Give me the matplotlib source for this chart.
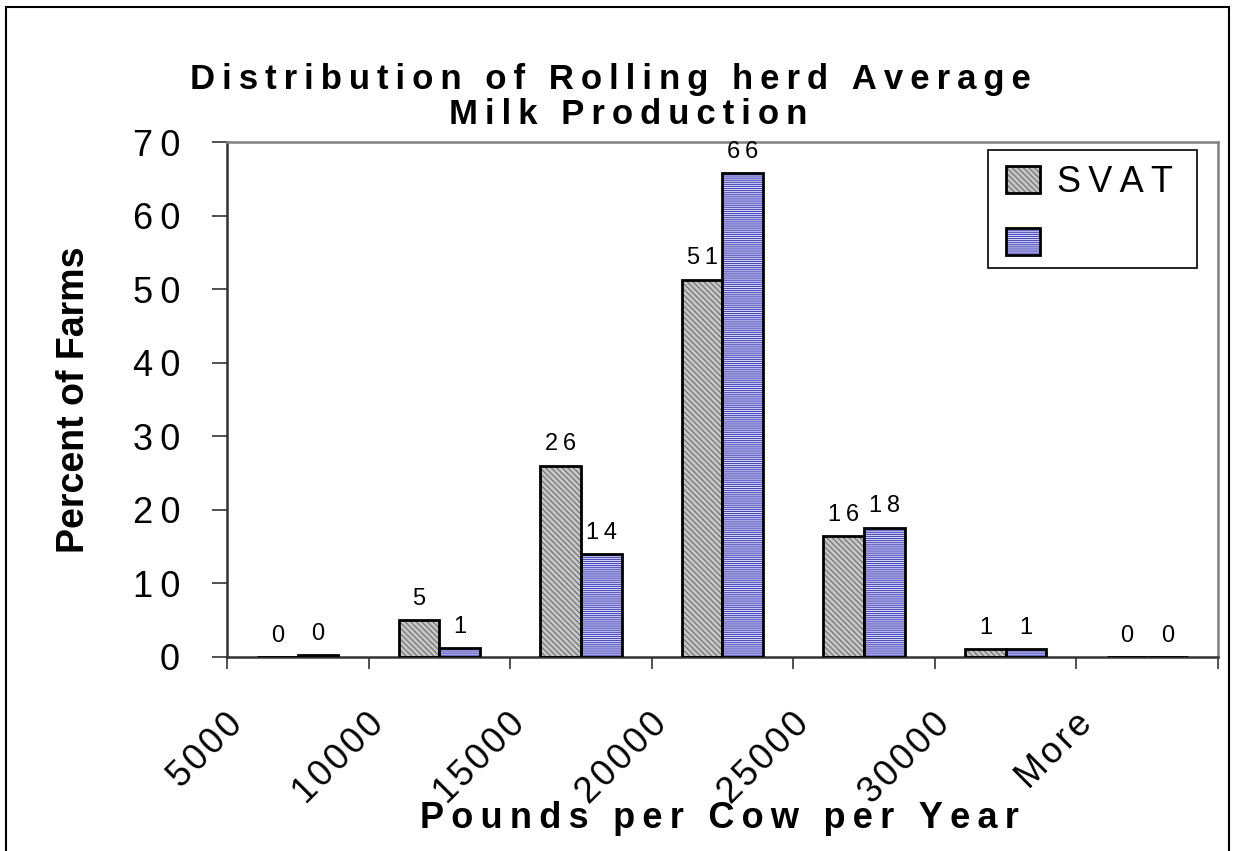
import matplotlib
matplotlib.use("Agg")
import matplotlib.pyplot as plt
import numpy as np
from matplotlib.patches import Rectangle
from matplotlib.transforms import ScaledTranslation

plt.rcParams["font.family"] = ["Liberation Sans", "DejaVu Sans"]
plt.rcParams["hatch.linewidth"] = 0.8

THIN = "\u2009"
HAIR = "\u200a"


def spaced(s, gap=THIN):
    # Excel-style loose letter spacing
    return gap.join(s)


bins = ["5000", "10000", "15000", "20000", "25000", "30000", "More"]
svat = [0, 5.0, 26.0, 51.3, 16.4, 1.05, 0]
other = [0.25, 1.2, 14.0, 65.8, 17.6, 1.05, 0]
series_names = ["SVAT", " "]

fig = plt.figure(figsize=(12.33, 8.51), dpi=100)
W, H = 1233, 851
ax = fig.add_axes([227 / W, (H - 657) / H, (1218 - 227) / W, (657 - 142) / H])

x = np.arange(len(bins))
bw = 0.287

styles = [
    dict(face="#c6c6c6", hatch="\\\\\\\\\\\\", hcolor="#6e6e6e"),
    dict(face="#e0e0f6", hatch="-" * 8, hcolor="#4646bc"),
]
handles = []
for i, (vals, st) in enumerate(zip([svat, other], styles)):
    pos = x + (i - 0.5) * bw
    fill = ax.bar(pos, vals, bw, color=st["face"], hatch=st["hatch"],
                  edgecolor=st["hcolor"], linewidth=0, zorder=2)
    edge = ax.bar(pos, vals, bw, fill=False, edgecolor="black",
                  linewidth=2, zorder=3)
    handles.append((fill, edge))
    for px, v in zip(pos, vals):
        ax.annotate(spaced(f"{v:.0f}"), (px, v), xytext=(0, 11),
                    textcoords="offset points", ha="center", va="baseline",
                    fontsize=17, zorder=4)

ax.set_xlim(-0.5, len(bins) - 0.5)
ax.set_ylim(0, 70)
ax.set_yticks(range(0, 71, 10))
ax.set_yticklabels([spaced(str(v)) for v in range(0, 71, 10)], fontsize=26)
ax.tick_params(axis="y", length=10.8, width=1.2, color="#333333", pad=23)

edges = np.arange(len(bins) + 1) - 0.5
ax.set_xticks(edges)
ax.set_xticklabels([spaced(b, HAIR) for b in bins] + [""], fontsize=26,
                   rotation=45, ha="right", va="center", rotation_mode="anchor")
ax.tick_params(axis="x", length=8.6, width=1.2, color="#333333", pad=36)
shift = ScaledTranslation(10 / 100, 0, fig.dpi_scale_trans)
for lab in ax.get_xticklabels():
    lab.set_transform(lab.get_transform() + shift)

for side in ("left", "bottom"):
    ax.spines[side].set_color("#333333")
    ax.spines[side].set_linewidth(1.8)
for side in ("top", "right"):
    ax.spines[side].set_color("#808080")
    ax.spines[side].set_linewidth(1.8)

ax.set_ylabel("Percent of Farms", fontsize=27, fontweight="bold")
ax.yaxis.set_label_coords(92 / W, 1 - 400 / H, transform=fig.transFigure)
fig.text(610 / W, 1 - 80 / H, spaced("Distribution of Rolling herd Average"),
         ha="center", va="center", fontsize=25, fontweight="bold")
fig.text(628 / W, 1 - 114 / H, spaced("Milk Production"),
         ha="center", va="center", fontsize=25, fontweight="bold")
fig.text(719 / W, 1 - 819 / H, spaced("Pounds per Cow per Year"),
         ha="center", va="center", fontsize=26, fontweight="bold")

# legend box drawn by hand, entries placed inside it without a frame
ax.add_patch(Rectangle((988 / W, 1 - 268 / H), (1197 - 988) / W,
                       (268 - 150) / H, transform=fig.transFigure,
                       facecolor="white", edgecolor="black", linewidth=1.2,
                       clip_on=False, zorder=4.5))
leg = ax.legend(handles, [spaced(n) for n in series_names], loc="upper left",
                bbox_to_anchor=(1006 / W, 1 - 165 / H),
                bbox_transform=fig.transFigure, borderaxespad=0, borderpad=0,
                fontsize=26, frameon=False,
                handlelength=0.95, handleheight=0.75, handletextpad=0.45,
                labelspacing=0.75)
leg.set_zorder(5)

# outer chart border
fig.patches.append(Rectangle((6 / W, -0.05), (1229 - 6) / W, 0.05 + (H - 7) / H,
                             transform=fig.transFigure, fill=False,
                             edgecolor="black", linewidth=1.5))

fig.savefig("out.png", dpi=100)
